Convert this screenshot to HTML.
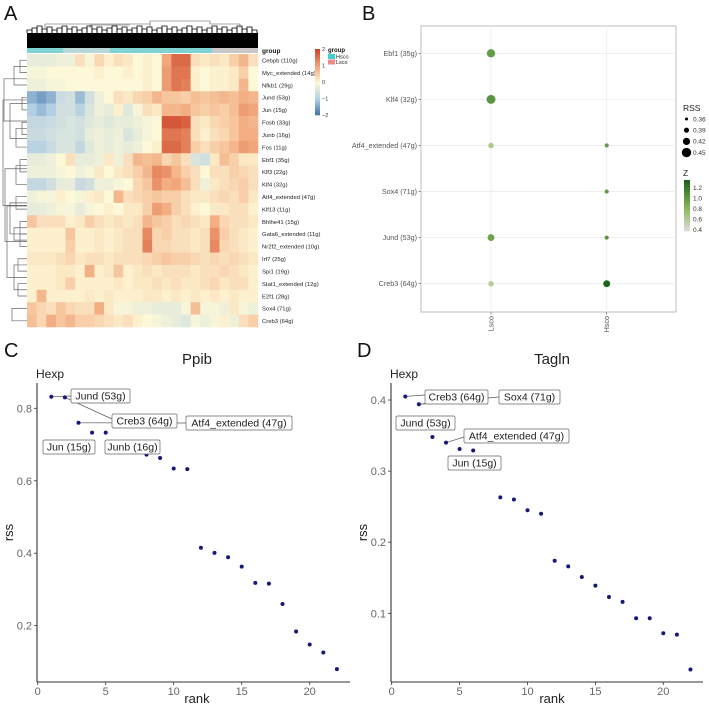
<!DOCTYPE html>
<html><head><meta charset="utf-8">
<style>
html,body{margin:0;padding:0;background:#fff;}
svg{display:block;font-family:"Liberation Sans",sans-serif;}
</style></head>
<body>
<svg id="fig" width="709" height="711" viewBox="0 0 709 711" xmlns="http://www.w3.org/2000/svg">
<rect x="0" y="0" width="709" height="711" fill="#fff"/>
<text x="4" y="20" font-size="20" fill="#111">A</text>
<text x="362" y="20" font-size="20" fill="#111">B</text>
<text x="4" y="357" font-size="20" fill="#111">C</text>
<text x="357" y="357" font-size="20" fill="#111">D</text>
<g id="pa"></g>
<g id="pb"></g>
<g id="pc"></g>
<g id="pd"></g>
</svg>
<script>
// ---------- Panel A data ----------
const hmRows = ["Cebpb (110g)","Myc_extended (14g)","Nfkb1 (29g)","Jund (53g)","Jun (15g)","Fosb (33g)","Junb (16g)","Fos (11g)","Ebf1 (35g)","Klf3 (22g)","Klf4 (32g)","Atf4_extended (47g)","Klf13 (11g)","Bhlhe41 (15g)","Gata6_extended (11g)","Nr2f2_extended (10g)","Irf7 (25g)","Spi1 (19g)","Stat1_extended (12g)","E2f1 (28g)","Sox4 (71g)","Creb3 (64g)"];
const hmValues = [
[-.3,-.3,-.3,-.2,-.2,.3,-.1,.4,.1,.3,.2,0,.1,0,1.0,1.6,1.6,.3,.2,.3,.2,.5,.8,.3],
[-.1,-.1,0,0,0,0,0,.1,0,0,.1,0,.1,0,1.1,1.5,1.5,.1,0,.1,.1,.2,.5,0],
[-.2,-.2,-.1,-.1,0,0,0,0,0,0,0,0,.1,0,1.1,1.5,1.4,.1,0,.1,.1,.2,.8,0],
[-1.3,-1.5,-1.3,-.7,-.6,-1.2,-.6,-.2,0,.3,.2,.4,.5,.8,.6,.6,.5,.7,.6,.7,.8,.7,.9,.8],
[-1.0,-1.2,-1.0,-.6,-.6,-.9,-.5,-.2,-.3,.1,-.4,-.1,.3,.2,.8,.8,.9,.6,.5,.6,.5,.7,1.1,1.0],
[-.8,-.8,-.7,-.6,-.5,-.6,-.4,-.3,-.4,-.3,-.3,-.2,-.1,0,1.8,1.8,1.7,.3,.2,.4,.5,.6,.9,.8],
[-.7,-.7,-.6,-.5,-.5,-.6,-.3,-.2,-.3,-.2,-.5,-.3,-.1,0,1.5,1.5,1.4,.3,.1,.3,.4,.6,.9,.9],
[-.9,-.9,-.7,-.5,-.5,-.8,-.4,-.2,-.3,-.2,-.3,-.2,0,.1,1.6,1.6,1.4,.5,.3,.5,.6,.8,1.1,1.0],
[-.3,-.3,-.2,0,.3,-.3,-.3,-.2,.2,-.2,.3,.8,.7,.8,.4,.6,.3,-.5,-.6,.2,.7,.5,.2,.2],
[-.2,-.2,-.2,-.1,0,-.2,-.1,.2,0,.2,.3,.5,.8,1.3,1.2,.8,.5,.3,0,.3,.3,.5,.4,.3],
[-.8,-.8,-.6,-.3,-.3,-.7,-.6,-.2,-.2,-.1,0,.4,.6,1.2,.9,1.0,.7,.3,-.2,.2,.3,.4,.5,.3],
[-.2,-.1,-.1,.1,0,-.1,.1,.2,0,.8,.3,.4,.5,.6,.5,.5,.3,.2,.2,.3,.4,.3,.5,.2],
[-.3,-.3,-.2,-.1,-.1,-.3,-.1,0,.1,0,.2,.2,.5,1.1,.9,.5,.3,.1,0,.2,.2,.3,.3,.1],
[.6,.3,.3,.3,.1,.2,.5,.3,.2,.3,.2,.3,.8,.6,.5,.3,.4,.3,.2,.9,.4,.3,.3,.2],
[.1,.1,.1,.1,.6,.1,.1,.2,.1,.2,.3,.3,1.3,.4,.5,.3,.3,.2,.3,1.2,.5,.3,.2,.1],
[.1,.1,.1,.1,.5,.1,.1,.2,.1,.2,.3,.3,1.4,.4,.4,.3,.3,.2,.3,1.3,.4,.3,.2,.1],
[.2,.2,.2,.3,.4,.2,.3,.3,.2,.3,.3,.3,.4,.5,.6,.5,.5,.4,.3,.4,.3,.4,.3,.2],
[.1,.1,.1,.2,.2,.1,.9,.1,.2,.6,.1,.2,.3,.2,.3,.3,.3,.2,.3,.3,.4,.3,.2,.1],
[.1,.1,.1,.2,.5,.1,.1,.1,.1,.2,.1,.2,.2,.3,.2,.3,.2,.2,.3,.4,.2,.3,.3,.1],
[.1,.8,.1,.1,.1,.1,.2,.1,.2,.1,.1,.1,.2,.2,.1,.2,.1,.2,.1,.2,.1,.2,.1,.1],
[.6,.4,.3,.6,.4,.3,.3,.9,.2,-.1,-.1,-.2,-.2,-.3,-.3,-.3,-.1,.7,-.1,-.1,-.2,.2,-.1,-.2],
[.7,.4,.9,.6,.8,.5,.5,.4,.3,.2,.3,.1,0,-.1,-.2,-.3,-.4,-.1,-.2,-.1,.1,-.2,.3,.5]];
const hmScaleTicks = [2,1,0,-1,-2];

// ---------- Panel B data ----------
const bRows = ["Ebf1 (35g)","Klf4 (32g)","Atf4_extended (47g)","Sox4 (71g)","Jund (53g)","Creb3 (64g)"];
const bCols = ["Lsco","Hsco"];
const bRssLsco = [0.44,0.45,0.40,0.33,0.42,0.40];
const bRssHsco = [0.33,0.33,0.38,0.38,0.38,0.42];
const bZLsco = [1.0,1.05,0.65,0.4,0.95,0.6];
const bZHsco = [0.4,0.4,1.0,1.0,1.05,1.35];
const bRssLegend = [0.36,0.39,0.42,0.45];
const bZTicks = [1.2,1.0,0.8,0.6,0.4];

// ---------- Panel C data ----------
const cRank = [1,2,3,4,5,6,7,8,9,10,11,12,13,14,15,16,17,18,19,20,21,22];
const cRss = [0.832,0.830,0.760,0.733,0.733,0.70,0.69,0.672,0.663,0.634,0.632,0.415,0.401,0.389,0.363,0.318,0.316,0.260,0.184,0.148,0.126,0.080];
const cYTicks = [0.2,0.4,0.6,0.8];
const cXTicks = [0,5,10,15,20];
const cLabels = ["Jund (53g)","Creb3 (64g)","Atf4_extended (47g)","Jun (15g)","Junb (16g)"];

// ---------- Panel D data ----------
const dRank = [1,2,3,4,5,6,7,8,9,10,11,12,13,14,15,16,17,18,19,20,21,22];
const dRss = [0.405,0.394,0.348,0.340,0.331,0.329,0.31,0.263,0.260,0.245,0.240,0.174,0.166,0.151,0.139,0.123,0.116,0.093,0.093,0.072,0.070,0.021];
const dYTicks = [0.1,0.2,0.3,0.4];
const dXTicks = [0,5,10,15,20];
const dLabels = ["Creb3 (64g)","Sox4 (71g)","Jund (53g)","Atf4_extended (47g)","Jun (15g)"];

const NS = "http://www.w3.org/2000/svg";
function mk(parent, tag, attrs, text){
  const e = document.createElementNS(NS, tag);
  for (const k in attrs) e.setAttribute(k, attrs[k]);
  if (text !== undefined) e.textContent = text;
  parent.appendChild(e);
  return e;
}
function lerp(a,b,t){return a+(b-a)*t;}
function hexToRgb(h){return [parseInt(h.slice(1,3),16),parseInt(h.slice(3,5),16),parseInt(h.slice(5,7),16)];}
function ramp(stops, cols, v){
  if (v<=stops[0]) return cols[0];
  for (let i=1;i<stops.length;i++){
    if (v<=stops[i]){
      const t=(v-stops[i-1])/(stops[i]-stops[i-1]);
      const a=hexToRgb(cols[i-1]), b=hexToRgb(cols[i]);
      return "rgb("+Math.round(lerp(a[0],b[0],t))+","+Math.round(lerp(a[1],b[1],t))+","+Math.round(lerp(a[2],b[2],t))+")";
    }
  }
  return cols[cols.length-1];
}
const hmStops=[-2,-1,0,1,2], hmCols=["#3a6ea5","#b3cfe3","#fdf8d8","#f2a679","#cc4428"];

// ================= Panel A =================
(function(){
  const g=document.getElementById('pa');
  const x0=27, x1=258, y0=54, y1=327;
  const nr=hmRows.length, nc=hmValues[0].length;
  const rh=(y1-y0)/nr, cw=(x1-x0)/nc;
  const dend=mk(g,'g',{});
  
  
  mk(dend,'rect',{x:x0,y:33,width:x1-x0,height:15,fill:'#000'});
  for(let i=0;i<46;i++){
    const xx=x0+i*5;
    const h=3+((i*7)%5);
    mk(dend,'path',{d:`M${xx},${33} V${33-h} H${xx+5} V33`,fill:'none',stroke:'#000','stroke-width':0.8});
  }
  mk(dend,'path',{d:`M45,28 V24 H150 V28 M150,24 V21 H210 V24 M210,21 V24 H240 V28 M90,28 V25 H130`,fill:'none',stroke:'#555','stroke-width':0.6});
  const gb=mk(g,'g',{});
  
  
  mk(gb,'rect',{x:x0,y:48,width:x1-x0,height:5,fill:'#7fd3d3'});
  mk(gb,'rect',{x:63,y:48,width:47,height:5,fill:'#b8d8d8'});
  mk(gb,'rect',{x:212,y:48,width:x1-212,height:5,fill:'#c8c8c8'});
  const cells=mk(g,'g',{});
  
  
  for(let r=0;r<nr;r++){
    for(let c=0;c<nc;c++){
      const rc=mk(cells,'rect',{x:(x0+c*cw).toFixed(2),y:(y0+r*rh).toFixed(2),width:(cw+0.3).toFixed(2),height:(rh+0.3).toFixed(2),fill:ramp(hmStops,hmCols,hmValues[r][c])});
      
      
    }
    const t=mk(g,'text',{x:262,y:(y0+r*rh+rh/2+2.3).toFixed(1),'font-size':5.9,fill:'#222'},hmRows[r]);
    
    
  }
  const rd=mk(g,'g',{fill:'none',stroke:'#666','stroke-width':0.7});
  
  
  const cy=i=>y0+i*rh+rh/2;
  const pairs=[[0,1,18],[0.5,2,12],[3,4,20],[5,6,20],[5.5,7,14],[3.5,6.3,8],[8,9,18],[8.5,10,14],[11,12,14],[13,14,18],[14,15,18],[13.5,14.5,12],[16,17,16],[18,19,16],[16.5,18.5,12],[11.5,14,8],[11.75,17.5,5],[8.75,14.6,3],[20,21,10],[1.5,4.9,2],[3.2,11.7,1]];
  pairs.forEach(p=>{const xx=p[2]+2;mk(rd,'path',{d:`M27,${cy(p[0])} H${xx} V${cy(p[1])} H27`});});
  const lg=mk(g,'g',{});
  
  
  const ly0=49, ly1=115;
  for(let i=0;i<40;i++){
    const v=2-4*i/40;
    mk(lg,'rect',{x:315,y:(ly0+i*(ly1-ly0)/40).toFixed(2),width:5,height:((ly1-ly0)/40+0.3).toFixed(2),fill:ramp(hmStops,hmCols,v)});
  }
  hmScaleTicks.forEach(v=>{
    const yy=ly0+(2-v)/4*(ly1-ly0);
    mk(lg,'text',{x:322,y:yy+2,'font-size':5.5,fill:'#333'},v<0?'\u2212'+(-v):String(v));
  });
  mk(g,'text',{x:262,y:53,'font-size':6.5,'font-weight':'bold',fill:'#111'},'group');
  mk(g,'text',{x:328,y:52,'font-size':6,'font-weight':'bold',fill:'#111'},'group');
  mk(g,'rect',{x:328,y:54,width:7,height:5,fill:'#3fcfcf'});
  mk(g,'rect',{x:328,y:59.5,width:7,height:5,fill:'#f08a8a'});
  mk(g,'text',{x:336,y:58.5,'font-size':5.5,fill:'#222'},'Hsco');
  mk(g,'text',{x:336,y:64,'font-size':5.5,fill:'#222'},'Lsco');
})();

// ================= Panel B =================
(function(){
  const g=document.getElementById('pb');
  const px0=421, px1=676, py0=26, py1=312;
  const rowY=i=>53.3+i*46.08;
  const colX=j=>491+j*115.7;
  const rScale=v=>Math.max(0.4,(v-0.33)/(0.45-0.33)*4.2+0.3);
  const zStops=[0.4,0.8,1.35], zCols=["#dcdcdc","#8fbc5e","#1b641b"];
  mk(g,'rect',{x:px0,y:py0,width:px1-px0,height:py1-py0,fill:'#fff',stroke:'#bdbdbd','stroke-width':1});
  bRows.forEach((r,i)=>{
    const y=rowY(i);
    mk(g,'line',{x1:px0,x2:px1,y1:y,y2:y,stroke:'#ececec','stroke-width':0.8});
    mk(g,'line',{x1:px0-2.5,x2:px0,y1:y,y2:y,stroke:'#555','stroke-width':0.6});
    const t=mk(g,'text',{x:px0-4,y:y+2.5,'font-size':7.2,fill:'#555','text-anchor':'end'},r);
    
    
  });
  bCols.forEach((c,j)=>{
    const x=colX(j);
    mk(g,'line',{x1:x,x2:x,y1:py0,y2:py1,stroke:'#ececec','stroke-width':0.8});
    mk(g,'line',{x1:x,x2:x,y1:py1,y2:py1+2.5,stroke:'#555','stroke-width':0.6});
    const t=mk(g,'text',{x:0,y:0,'font-size':7.2,fill:'#555','text-anchor':'end',transform:`translate(${x+2.5},${py1+4}) rotate(-90)`},c);
    
    
  });
  bRows.forEach((r,i)=>{
    [[bRssLsco,bZLsco],[bRssHsco,bZHsco]].forEach((arr,j)=>{
      const c=mk(g,'circle',{cx:colX(j),cy:rowY(i),r:rScale(arr[0][i]).toFixed(2),fill:ramp(zStops,zCols,arr[1][i])});
      
      
    });
  });
  mk(g,'text',{x:683,y:111,'font-size':8.5,fill:'#222'},'RSS');
  bRssLegend.forEach((v,i)=>{
    const y=119+i*11.2;
    mk(g,'circle',{cx:686.5,cy:y,r:rScale(v+0.005),fill:'#000'});
    mk(g,'text',{x:693,y:y+2.3,'font-size':6.5,fill:'#333'},v.toFixed(2));
  });
  mk(g,'text',{x:683,y:176,'font-size':8.5,fill:'#222'},'Z');
  const zy0=180, zy1=231;
  for(let i=0;i<30;i++){
    const v=1.35-(1.35-0.38)*i/30;
    mk(g,'rect',{x:684,y:(zy0+i*(zy1-zy0)/30).toFixed(2),width:6,height:((zy1-zy0)/30+0.3).toFixed(2),fill:ramp(zStops,zCols,v)});
  }
  bZTicks.forEach(v=>{
    const y=zy0+(1.35-v)/(1.35-0.38)*(zy1-zy0);
    mk(g,'text',{x:693,y:y+2.3,'font-size':6.5,fill:'#333'},v.toFixed(1));
  });
})();

// ================= Rank plots =================
function rankPlot(gid, o){
  const g=document.getElementById(gid);
  const X=v=>o.x0+v*o.xs, Y=v=>o.yRef+(o.vRef-v)*o.ys;
  mk(g,'text',{x:o.titleX,y:364,'font-size':15,fill:'#222','text-anchor':'middle'},o.title);
  mk(g,'text',{x:o.axL-1,y:378,'font-size':12,fill:'#222'},'Hexp');
  mk(g,'line',{x1:o.axL,x2:o.axL,y1:383,y2:o.axB,stroke:'#333','stroke-width':1.1});
  mk(g,'line',{x1:o.axL,x2:o.axR,y1:o.axB,y2:o.axB,stroke:'#333','stroke-width':1.1});
  o.yTicks.forEach(v=>{
    mk(g,'line',{x1:o.axL-3,x2:o.axL,y1:Y(v),y2:Y(v),stroke:'#333','stroke-width':0.8});
    const t=mk(g,'text',{x:o.axL-5,y:Y(v)+4,'font-size':11,fill:'#666','text-anchor':'end'},v.toFixed(1));
    
    
  });
  o.xTicks.forEach(v=>{
    mk(g,'line',{x1:X(v),x2:X(v),y1:o.axB,y2:o.axB+3,stroke:'#333','stroke-width':0.8});
    const t=mk(g,'text',{x:X(v),y:o.axB+13,'font-size':11,fill:'#666','text-anchor':'middle'},String(v));
    
    
  });
  mk(g,'text',{x:o.titleX,y:703,'font-size':13,fill:'#222','text-anchor':'middle'},'rank');
  mk(g,'text',{x:0,y:0,'font-size':13,fill:'#222','text-anchor':'middle',transform:`translate(${o.axL-24},${(383+o.axB)/2}) rotate(-90)`},'rss');
  o.lines.forEach(l=>{
    mk(g,'line',{x1:X(l[0]),y1:Y(l[1]),x2:l[2],y2:l[3],stroke:'#555','stroke-width':0.7});
  });
  o.rank.forEach((r,i)=>{
    const c=mk(g,'circle',{cx:X(r).toFixed(2),cy:Y(o.rss[i]).toFixed(2),r:2,fill:'#17177a'});
    
    
  });
  o.labels.forEach((txt,i)=>{
    const b=o.boxes[i];
    const lb=mk(g,'g',{});
    
    
    mk(lb,'rect',{x:b[0],y:b[1],width:b[2],height:14,rx:1.5,fill:'#fff',stroke:'#666','stroke-width':0.7});
    mk(lb,'text',{x:b[0]+b[2]/2,y:b[1]+10.5,'font-size':10.5,fill:'#222','text-anchor':'middle'},txt);
  });
}
rankPlot('pc',{title:'Ppib',titleX:197,x0:37.7,xs:13.6,yRef:408.3,vRef:0.8,ys:362.3,axL:37,axR:350,axB:682,
  yTicks:cYTicks,xTicks:cXTicks,rank:cRank,rss:cRss,labels:cLabels,
  boxes:[[71,389,59],[112,414,65],[186,416,106],[43,440,52],[105,440,55]],
  lines:[[1,0.832,71,396],[2,0.830,112,419],[3,0.760,186,423]]});
rankPlot('pd',{title:'Tagln',titleX:552,x0:391.7,xs:13.58,yRef:400,vRef:0.4,ys:711,axL:391,axR:703,axB:682,
  yTicks:dYTicks,xTicks:dXTicks,rank:dRank,rss:dRss,labels:dLabels,
  boxes:[[425,390,63],[499,390,61],[396,416,59],[464,429,105],[448,456,53]],
  lines:[[1,0.405,425,395],[2,0.394,445,402],[2,0.394,499,397],[4,0.340,464,437]]});
</script>
</body></html>
